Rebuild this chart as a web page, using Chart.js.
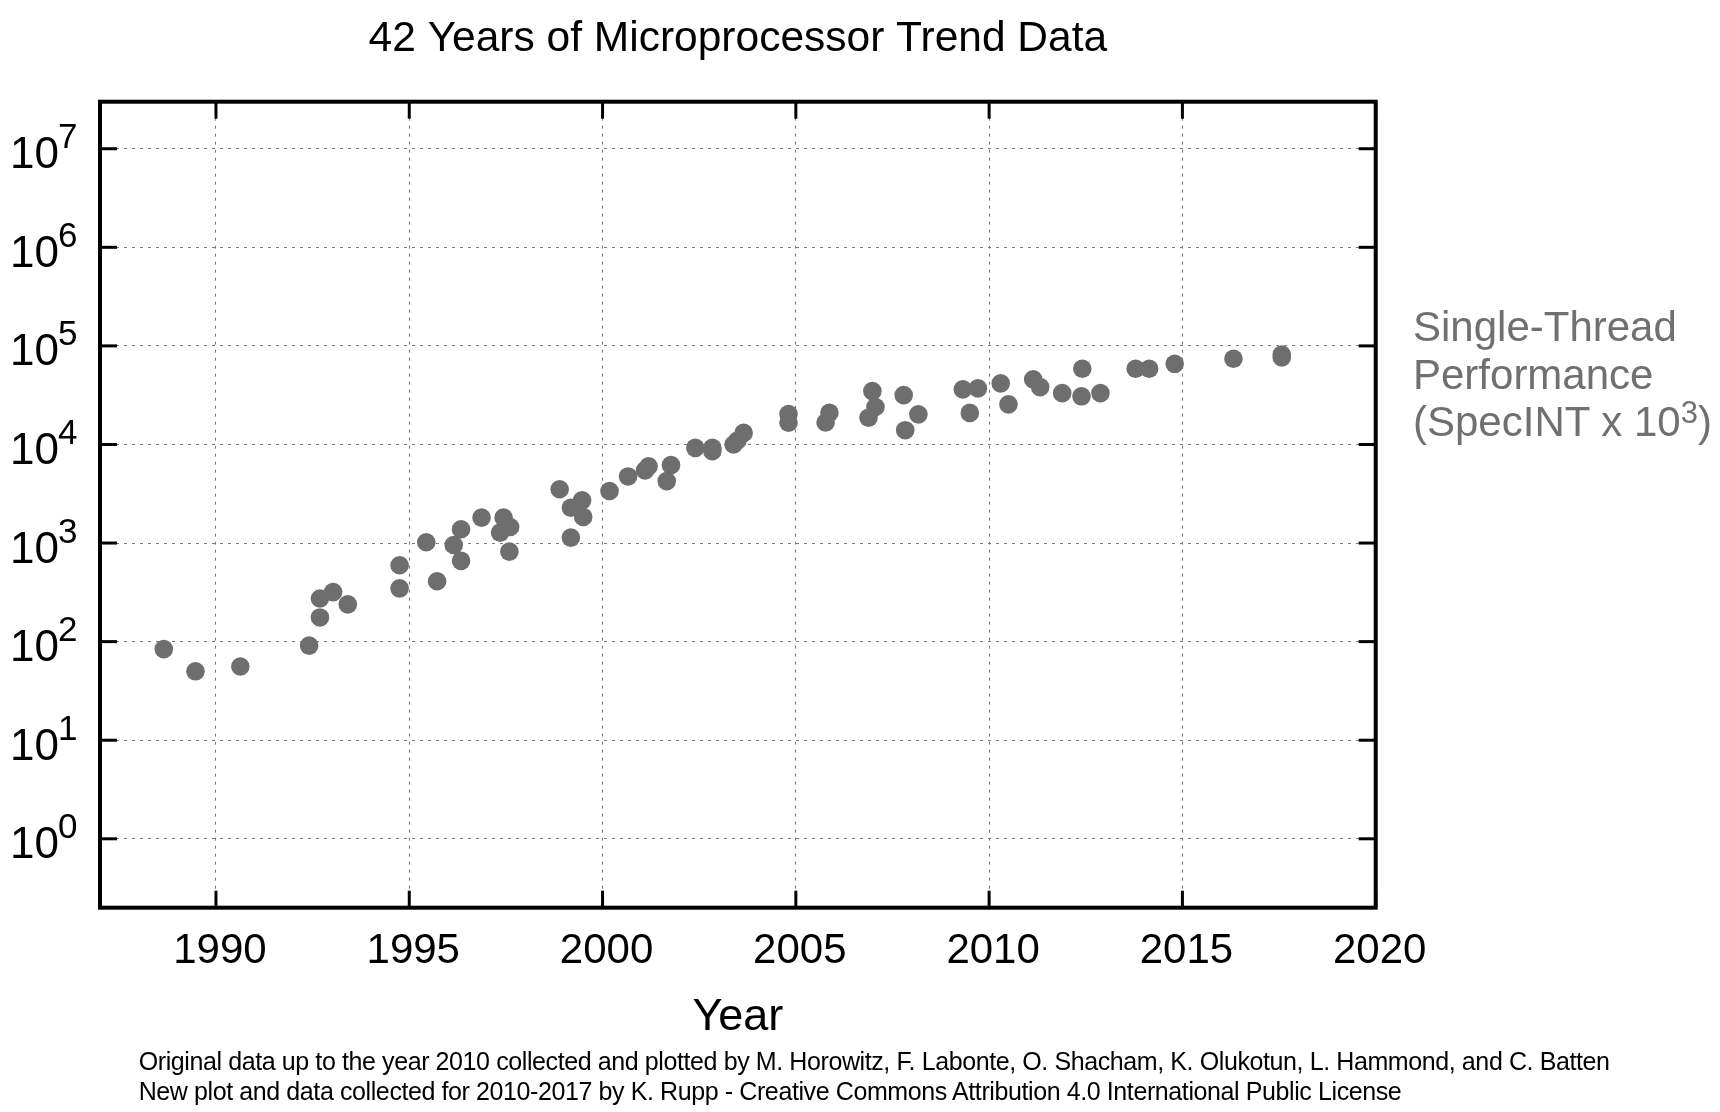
<!DOCTYPE html>
<html>
<head>
<meta charset="utf-8">
<title>42 Years of Microprocessor Trend Data</title>
<script src="https://cdn.jsdelivr.net/npm/chart.js@4/dist/chart.umd.min.js"></script>
<style>
  html, body { margin: 0; padding: 0; background: #fff; }
  #wrap { position: relative; width: 1720px; height: 1112px; overflow: hidden; font-family: "Liberation Sans", Arial, Helvetica, sans-serif; }
  #chart { position: absolute; left: 0; top: 0; }
  .side { position: absolute; left: 1413px; top: 302.6px; font-size: 42px; line-height: 47.9px; color: #707070; white-space: nowrap; }
  .side .sup { position: relative; top: -13px; font-size: 31px; line-height: 0; }
  .foot { position: absolute; left: 138.7px; top: 1045.6px; font-size: 25px; line-height: 30px; letter-spacing: -0.4px; color: #000; white-space: nowrap; }
</style>
</head>
<body>
<div id="wrap">
  <canvas id="chart" width="1720" height="1112"></canvas>
  <div class="side">Single-Thread<br>Performance<br>(SpecINT x 10<span class="sup">3</span>)</div>
  <div class="foot">Original data up to the year 2010 collected and plotted by M. Horowitz, F. Labonte, O. Shacham, K. Olukotun, L. Hammond, and C. Batten<br>New plot and data collected for 2010-2017 by K. Rupp - Creative Commons Attribution 4.0 International Public License</div>
</div>
<script>
// ---- data ----
const years = [
  1988.65, 1989.47, 1990.63, 1992.41, 1992.69, 1992.69, 1993.03, 1993.41, 1994.75, 1994.75,
  1995.44, 1995.72, 1996.15, 1996.34, 1996.34, 1996.87, 1997.35, 1997.44, 1997.61, 1997.59,
  1998.89, 1999.18, 1999.47, 1999.50, 1999.18, 2000.18, 2000.66, 2001.10, 2001.19, 2001.66,
  2001.77, 2002.40, 2002.84, 2002.84, 2003.39, 2003.49, 2003.65, 2004.81, 2004.81, 2005.77,
  2005.87, 2006.88, 2006.98, 2007.06, 2007.79, 2007.83, 2008.17, 2009.32, 2009.50, 2009.71,
  2010.30, 2010.50, 2011.14, 2011.32, 2011.89, 2012.39, 2012.41, 2012.88, 2013.79, 2014.14,
  2014.80, 2016.32, 2017.57, 2017.57
];
const singleThreadPerf = [
  84, 50, 56, 91, 176, 274, 318, 239, 596, 347,
  1020, 410, 955, 1380, 660, 1810, 1275, 1810, 1455, 818,
  3510, 2280, 2710, 1840, 1135, 3370, 4740, 5460, 6020, 4250,
  6170, 9240, 9240, 8560, 10000, 10970, 13100, 20400, 16600, 16700,
  21000, 18700, 34800, 24000, 31700, 13960, 20200, 36200, 20900, 37100,
  41700, 25500, 45700, 38200, 33200, 30800, 58600, 33200, 58600, 58600,
  65800, 74000, 81700, 76300
];
const xTickLabels = ['1990', '1995', '2000', '2005', '2010', '2015', '2020'];
const yTickBase = '10';
const yTickExponents = ['0', '1', '2', '3', '4', '5', '6', '7'];
const xRange = [1987, 2020];
const yRange = [0.2, 3e7];

const FONT = '"Liberation Sans", Arial, Helvetica, sans-serif';
const DOT = 'rgb(110,110,110)';

// inner ticks, frame and superscript y labels
const framePlugin = {
  id: 'frameAndLabels',
  afterDatasetsDraw(chart) {
    const { ctx, chartArea: a, scales: { x, y } } = chart;
    const seg = (x1, y1, x2, y2) => { ctx.beginPath(); ctx.moveTo(x1, y1); ctx.lineTo(x2, y2); ctx.stroke(); };
    ctx.save();
    ctx.strokeStyle = '#000';
    ctx.lineWidth = 3;
    ctx.setLineDash([]);
    y.ticks.forEach(t => {
      const py = y.getPixelForValue(t.value);
      seg(a.left, py, a.left + 17, py);
      seg(a.right - 17, py, a.right, py);
    });
    x.ticks.forEach(t => {
      const px = x.getPixelForValue(t.value);
      seg(px, a.bottom - 17, px, a.bottom);
      seg(px, a.top, px, a.top + 17);
    });
    ctx.lineWidth = 4;
    ctx.strokeRect(a.left, a.top, a.right - a.left, a.bottom - a.top);

    // y tick labels: "10" with superscript exponent
    ctx.fillStyle = '#000';
    ctx.textAlign = 'left';
    ctx.textBaseline = 'alphabetic';
    y.ticks.forEach((t, i) => {
      const py = y.getPixelForValue(t.value);
      ctx.font = '44px ' + FONT;
      const w = ctx.measureText(yTickBase).width;
      const x0 = 10;
      ctx.fillText(yTickBase, x0, py + 19.5);
      ctx.font = '35px ' + FONT;
      ctx.fillText(yTickExponents[i], x0 + w - 1, py - 0.5);
    });
    ctx.restore();
  }
};

new Chart(document.getElementById('chart'), {
  type: 'scatter',
  data: {
    datasets: [{
      label: 'Single-Thread Performance (SpecINT x 10^3)',
      data: years.map((yr, i) => ({ x: yr, y: singleThreadPerf[i] })),
      backgroundColor: DOT,
      borderWidth: 0,
      pointRadius: 9.3,
      pointHoverRadius: 9.3
    }]
  },
  options: {
    responsive: false,
    devicePixelRatio: 1,
    animation: false,
    events: [],
    layout: { padding: { top: 0, left: 0, right: 344.3, bottom: 0 } },
    plugins: {
      legend: { display: false },
      tooltip: { enabled: false },
      title: {
        display: true,
        text: '42 Years of Microprocessor Trend Data',
        fullSize: false,
        color: '#000',
        font: { family: FONT, size: 42.5, weight: 'normal', lineHeight: 1.2 },
        padding: { top: 13.3, bottom: 37.4 }
      }
    },
    scales: {
      x: {
        type: 'linear',
        min: xRange[0],
        max: xRange[1],
        afterBuildTicks: s => { s.ticks = xTickLabels.map(v => ({ value: Number(v) })); },
        afterFit: s => { s.height = 204.3; },
        ticks: {
          callback: v => String(v),
          color: '#000',
          font: { family: FONT, size: 42, lineHeight: 1.2 },
          padding: 19,
          labelOffset: 4,
          maxRotation: 0,
          autoSkip: false
        },
        grid: { color: '#7a7a7a', lineWidth: 1, drawTicks: false },
        border: { display: false, dash: [3, 5] },
        title: {
          display: true,
          text: 'Year',
          color: '#000',
          font: { family: FONT, size: 45, lineHeight: 1.2 },
          padding: { top: 0, bottom: 67.5 }
        }
      },
      y: {
        type: 'logarithmic',
        min: yRange[0],
        max: yRange[1],
        afterBuildTicks: s => { s.ticks = yTickExponents.map(e => ({ value: Math.pow(10, Number(e)) })); },
        afterFit: s => { s.width = 100; },
        ticks: { display: false },
        grid: { color: '#7a7a7a', lineWidth: 1, drawTicks: false },
        border: { display: false, dash: [3, 5] }
      }
    }
  },
  plugins: [framePlugin]
});
</script>
</body>
</html>
